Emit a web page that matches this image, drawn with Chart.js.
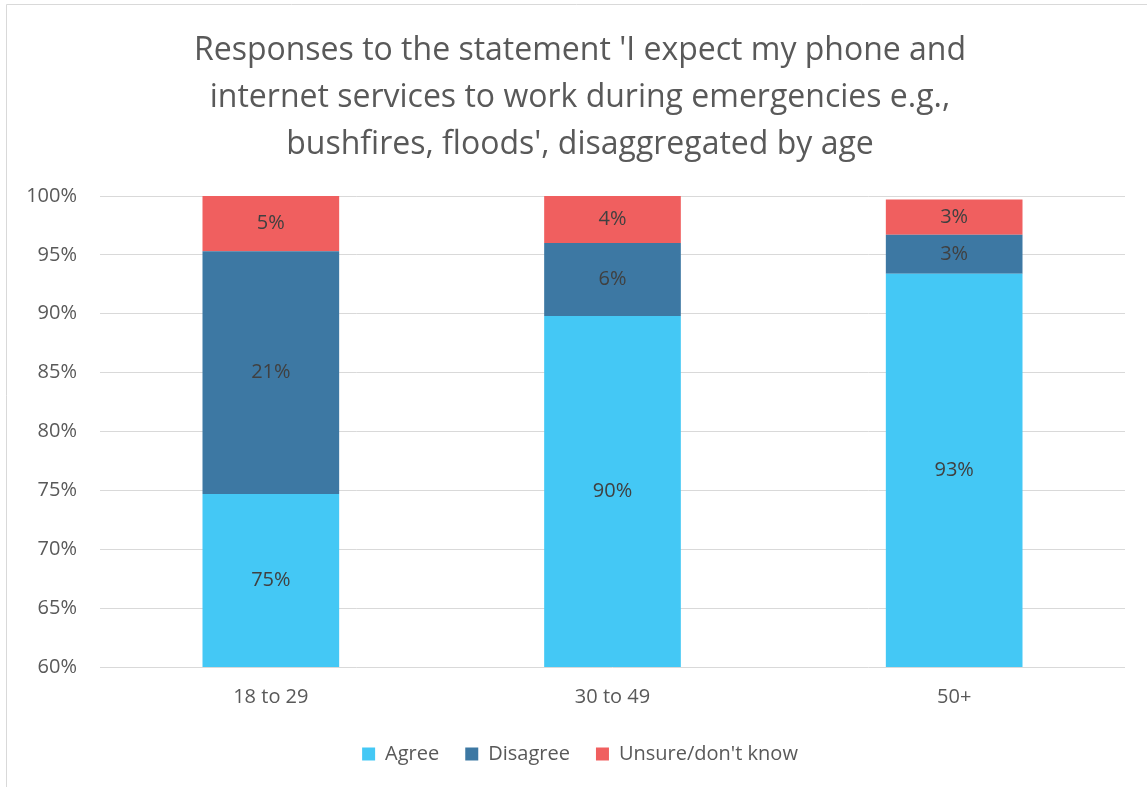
<!DOCTYPE html>
<html>
<head>
<meta charset="utf-8">
<title>Emergency connectivity expectations by age</title>
<script src="https://cdn.jsdelivr.net/npm/chart.js@4/dist/chart.umd.min.js"></script>
<style>
  html, body { margin: 0; padding: 0; background: #ffffff; }
  #wrap { position: relative; width: 1147px; height: 787px; }
  canvas { display: block; }
</style>
</head>
<body>
<div id="wrap"><canvas id="chart" width="1147" height="787"></canvas></div>
<script>
// Age groups along the x axis
const categories = ['18 to 29', '30 to 49', '50+'];

// Share of respondents (%) for each response, per age group
const agreeValues    = [74.7, 89.8, 93.4];
const disagreeValues = [20.6, 6.2, 3.3];
const unsureValues   = [4.7, 4.0, 3.0];

// Series names shown in the legend
const seriesNames = ['Agree', 'Disagree', "Unsure/don't know"];

// Y axis range and step (%)
const yMin = 60;
const yMax = 100;
const yStep = 5;

const titleLines = [
  "Responses to the statement 'I expect my phone and",
  "internet services to work during emergencies e.g.,",
  "bushfires, floods', disaggregated by age"
];

const FONT = '"Open Sans", Carlito, Calibri, sans-serif';
const TEXT_GREY = '#595959';
const LABEL_GREY = '#404040';
const GRID_GREY = '#d9d9d9';

// Writes each segment's rounded percentage in the middle of its visible part
const segmentLabels = {
  id: 'segmentLabels',
  afterDatasetsDraw(chart) {
    const ctx = chart.ctx;
    const area = chart.chartArea;
    ctx.save();
    ctx.font = '20px ' + FONT;
    ctx.fillStyle = LABEL_GREY;
    ctx.textAlign = 'center';
    ctx.textBaseline = 'middle';
    chart.data.datasets.forEach((ds, di) => {
      const meta = chart.getDatasetMeta(di);
      meta.data.forEach((bar, i) => {
        const v = ds.data[i];
        const p = bar.getProps(['x', 'y', 'base'], true);
        const top = Math.max(Math.min(p.y, p.base), area.top);
        const bottom = Math.min(Math.max(p.y, p.base), area.bottom);
        ctx.fillText(Math.round(v) + '%', p.x, (top + bottom) / 2);
      });
    });
    ctx.restore();
  }
};

// Thin frame along the left and top edges of the chart box
const chartFrame = {
  id: 'chartFrame',
  beforeDraw(chart) {
    const ctx = chart.ctx;
    ctx.save();
    ctx.strokeStyle = GRID_GREY;
    ctx.lineWidth = 1;
    ctx.beginPath();
    ctx.moveTo(6.5, chart.height);
    ctx.lineTo(6.5, 4.5);
    ctx.lineTo(chart.width, 4.5);
    ctx.stroke();
    ctx.restore();
  }
};

new Chart(document.getElementById('chart'), {
  type: 'bar',
  data: {
    labels: categories,
    datasets: [
      { label: seriesNames[0], data: agreeValues,    backgroundColor: '#44c8f5' },
      { label: seriesNames[1], data: disagreeValues, backgroundColor: '#3d78a3' },
      { label: seriesNames[2], data: unsureValues,   backgroundColor: '#f05f5f' }
    ]
  },
  options: {
    responsive: false,
    animation: false,
    devicePixelRatio: 1,
    layout: { padding: { left: 13, right: 0, top: 0, bottom: 13 } },
    datasets: {
      bar: { categoryPercentage: 1.0, barPercentage: 0.4, borderWidth: 0 }
    },
    scales: {
      x: {
        stacked: true,
        grid: { display: false, drawTicks: false },
        border: { display: false },
        ticks: { color: TEXT_GREY, font: { family: FONT, size: 20 }, padding: 18 },
        afterFit(scale) { scale.height = 51; }
      },
      y: {
        stacked: true,
        min: yMin,
        max: yMax,
        grid: { color: GRID_GREY, lineWidth: 1, drawTicks: false },
        border: { display: false },
        ticks: {
          stepSize: yStep,
          color: TEXT_GREY,
          font: { family: FONT, size: 20 },
          padding: 23,
          callback: (v) => v + '%'
        },
        afterFit(scale) { scale.width = 87; }
      },
      // empty margin on the right of the plot
      yRight: {
        position: 'right',
        display: true,
        grid: { display: false, drawTicks: false },
        border: { display: false },
        ticks: { display: false },
        afterFit(scale) { scale.width = 22; }
      }
    },
    plugins: {
      title: {
        display: true,
        text: titleLines,
        color: TEXT_GREY,
        font: { family: FONT, size: 32, weight: 'normal', lineHeight: '47px' },
        padding: { top: 27, bottom: 28 }
      },
      legend: {
        position: 'bottom',
        labels: {
          color: TEXT_GREY,
          font: { family: FONT, size: 20 },
          boxWidth: 13,
          boxHeight: 13,
          padding: 26
        }
      },
      tooltip: { enabled: false }
    }
  },
  plugins: [segmentLabels, chartFrame]
});
</script>
</body>
</html>
